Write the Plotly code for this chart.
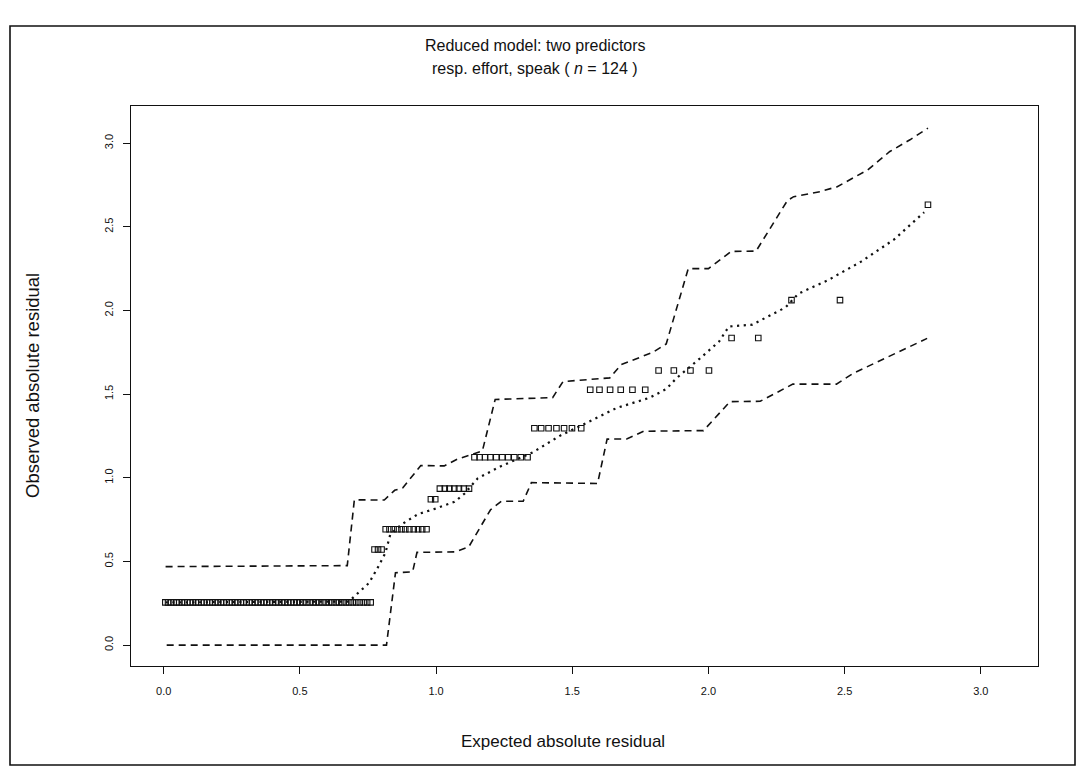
import plotly.graph_objects as go

# ---- data ----
# observed absolute residual levels (distinct values) and the expected
# (half-normal score) positions of the points plotted at each level
observed_levels = [0.255, 0.571, 0.692, 0.872, 0.935, 1.123, 1.296, 1.526, 1.641, 1.835, 2.062, 2.632]

exp_l1 = [0.006, 0.016, 0.027, 0.037, 0.047, 0.057, 0.067, 0.077, 0.087, 0.097,
          0.107, 0.118, 0.128, 0.138, 0.148, 0.159, 0.169, 0.179, 0.189, 0.199,
          0.210, 0.220, 0.231, 0.241, 0.251, 0.262, 0.272, 0.283, 0.293, 0.304,
          0.314, 0.325, 0.336, 0.346, 0.357, 0.368, 0.379, 0.389, 0.400, 0.411,
          0.422, 0.434, 0.445, 0.456, 0.467, 0.478, 0.489, 0.501, 0.512, 0.524,
          0.536, 0.548, 0.559, 0.571, 0.583, 0.595, 0.607, 0.619, 0.632, 0.644,
          0.656, 0.669, 0.681, 0.694, 0.707, 0.720, 0.734, 0.747, 0.760]
exp_l2 = [0.774, 0.787, 0.800]
exp_l3 = [0.815, 0.829, 0.844, 0.858, 0.873, 0.887, 0.902, 0.918, 0.934, 0.949, 0.965]
exp_l4 = [0.981, 0.997]
exp_l5 = [1.014, 1.032, 1.049, 1.067, 1.084, 1.102, 1.121]
exp_l6 = [1.141, 1.160, 1.180, 1.199, 1.221, 1.243, 1.265, 1.287, 1.311, 1.336]
exp_l7 = [1.361, 1.386, 1.413, 1.442, 1.470, 1.499, 1.533]
exp_l8 = [1.566, 1.600, 1.639, 1.678, 1.721, 1.768]
exp_l9 = [1.817, 1.873, 1.934, 2.002]
exp_l10 = [2.085, 2.183]
exp_l11 = [2.305, 2.483]
exp_l12 = [2.806]
expected_groups = [exp_l1, exp_l2, exp_l3, exp_l4, exp_l5, exp_l6,
                   exp_l7, exp_l8, exp_l9, exp_l10, exp_l11, exp_l12]

# simulated envelope: upper bound
upper_x = [0.007, 0.674, 0.700, 0.810, 0.848, 0.878, 0.944, 1.030, 1.079, 1.140, 1.170,
           1.217, 1.428, 1.466, 1.638, 1.680, 1.795, 1.845, 1.926, 2.000, 2.084, 2.175,
           2.290, 2.313, 2.410, 2.473, 2.585, 2.666, 2.740, 2.806]
upper_y = [0.469, 0.475, 0.868, 0.867, 0.925, 0.940, 1.073, 1.071, 1.112, 1.146, 1.160,
           1.468, 1.479, 1.575, 1.597, 1.677, 1.749, 1.800, 2.250, 2.250, 2.353, 2.355,
           2.657, 2.680, 2.710, 2.740, 2.840, 2.950, 3.020, 3.090]
# lower bound
lower_x = [0.011, 0.818, 0.851, 0.914, 0.930, 1.070, 1.120, 1.200, 1.240, 1.320, 1.350,
           1.593, 1.628, 1.700, 1.762, 1.982, 2.079, 2.190, 2.310, 2.470, 2.530, 2.803]
lower_y = [0.000, 0.000, 0.432, 0.438, 0.554, 0.557, 0.587, 0.809, 0.860, 0.860, 0.971,
           0.966, 1.231, 1.232, 1.278, 1.282, 1.455, 1.457, 1.560, 1.560, 1.623, 1.833]
# mean of simulations
mean_x = [0.007, 0.680, 0.706, 0.754, 0.790, 0.814, 0.832, 0.874, 0.934, 0.995, 1.068,
          1.105, 1.153, 1.238, 1.354, 1.457, 1.535, 1.663, 1.785, 1.845, 1.875, 1.894,
          1.968, 2.039, 2.075, 2.161, 2.283, 2.330, 2.440, 2.562, 2.683, 2.792]
mean_y = [0.255, 0.260, 0.300, 0.371, 0.475, 0.551, 0.662, 0.722, 0.783, 0.814, 0.856,
          0.906, 0.997, 1.069, 1.151, 1.253, 1.314, 1.417, 1.479, 1.530, 1.582, 1.611,
          1.712, 1.814, 1.904, 1.915, 2.018, 2.100, 2.182, 2.293, 2.426, 2.587]

tick_vals = [0.0, 0.5, 1.0, 1.5, 2.0, 2.5, 3.0]
tick_text = ["0.0", "0.5", "1.0", "1.5", "2.0", "2.5", "3.0"]

# ---- build point arrays ----
pts_x, pts_y = [], []
for lvl, grp in zip(observed_levels, expected_groups):
    pts_x.extend(grp)
    pts_y.extend([lvl] * len(grp))

FONT = "Liberation Sans, Arial, Helvetica, sans-serif"
INK = "#111111"

fig = go.Figure()
fig.add_trace(go.Scatter(x=upper_x, y=upper_y, mode="lines",
                         line=dict(color=INK, width=1.6, dash="7px,5px"), hoverinfo="skip"))
fig.add_trace(go.Scatter(x=lower_x, y=lower_y, mode="lines",
                         line=dict(color=INK, width=1.6, dash="7px,5px"), hoverinfo="skip"))
fig.add_trace(go.Scatter(x=mean_x, y=mean_y, mode="lines",
                         line=dict(color=INK, width=2.2, dash="2.2px,4.5px"), hoverinfo="skip"))
fig.add_trace(go.Scatter(x=pts_x, y=pts_y, mode="markers",
                         marker=dict(symbol="square-open", size=5.5, color=INK,
                                     line=dict(width=1.1, color=INK))))

L, R, T, B = 131, 43, 106, 112
W, H = 1081, 778
pw, ph = W - L - R, H - T - B

def px(X):
    return (X - L) / pw

def py(Y):
    return (H - B - Y) / ph

axis_common = dict(showgrid=False, zeroline=False, showline=True, linecolor=INK,
                   linewidth=1.4, mirror=True, ticks="outside", ticklen=7,
                   tickwidth=1.2, tickcolor=INK, tickvals=tick_vals, ticktext=tick_text,
                   tickfont=dict(family=FONT, size=11, color=INK))

fig.update_layout(
    width=W, height=H,
    margin=dict(l=L, r=R, t=T, b=B),
    paper_bgcolor="white", plot_bgcolor="white",
    showlegend=False,
    xaxis=dict(range=[-0.12, 3.21], ticklabelstandoff=8, **axis_common),
    yaxis=dict(range=[-0.125, 3.222], tickangle=-90, ticklabelstandoff=5, **axis_common),
    shapes=[dict(type="rect", xref="paper", yref="paper",
                 x0=px(10), x1=px(1075), y0=py(765), y1=py(26),
                 line=dict(color=INK, width=1.6))],
    annotations=[
        dict(text="Reduced model: two predictors", x=px(535), y=py(46),
             xref="paper", yref="paper", showarrow=False, xanchor="center", yanchor="middle",
             font=dict(family=FONT, size=16, color=INK)),
        dict(text="resp. effort, speak ( <i>n</i> = 124 )", x=px(535), y=py(68),
             xref="paper", yref="paper", showarrow=False, xanchor="center", yanchor="middle",
             font=dict(family=FONT, size=16, color=INK)),
        dict(text="Expected absolute residual", x=px(563), y=py(741),
             xref="paper", yref="paper", showarrow=False, xanchor="center", yanchor="middle",
             font=dict(family=FONT, size=17, color=INK)),
        dict(text="Observed absolute residual", x=px(32), y=py(386), textangle=-90,
             xref="paper", yref="paper", showarrow=False, xanchor="center", yanchor="middle",
             font=dict(family=FONT, size=18.5, color=INK)),
    ],
)

fig.write_html("out.html",
               config={"displayModeBar": False},
               post_script="document.body.style.margin='0px';document.body.style.overflow='hidden';")
